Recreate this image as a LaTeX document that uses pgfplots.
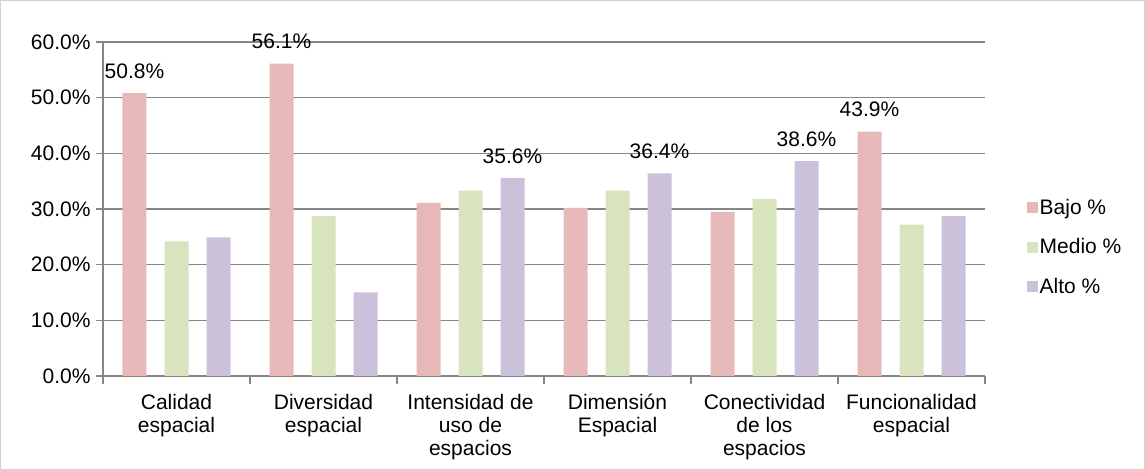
\documentclass[border=0pt]{standalone}
\usepackage{fontspec}
\setmainfont{Liberation Sans}
\usepackage{pgfplots}
\pgfplotsset{compat=1.18}
\definecolor{bajo}{HTML}{E6B9B8}
\definecolor{medio}{HTML}{D7E4BD}
\definecolor{alto}{HTML}{CCC1DA}
\definecolor{gridc}{HTML}{868686}
\begin{document}
\begin{tikzpicture}
\useasboundingbox (0,0) rectangle (1145pt,470pt);
\draw[line width=1pt, black!18] (0.5pt,0.5pt) rectangle (1144.5pt,469.5pt);
\begin{axis}[
  at={(103pt,94pt)}, anchor=south west,
  scale only axis, width=882pt, height=334pt,
  xmin=-0.5, xmax=5.5, ymin=0, ymax=60,
  axis x line=bottom, axis y line=left,
  axis line style={draw=gridc, line width=1.2pt, -},
  every tick label/.append style={font=\fontsize{21}{23}\selectfont},
  /pgf/number format/assume math mode=true,
  ytick={0,10,...,60},
  yticklabel={\pgfmathprintnumber[fixed,fixed zerofill,precision=1]{\tick}\%},
  ytick style={draw=gridc, line width=1.2pt},
  major tick length=7pt,
  tick align=outside,
  ymajorgrids, grid style={draw=gridc, line width=1.2pt},
  yticklabel style={xshift=-2pt},
  xtick={0,...,5},
  xtick style={draw=none},
  xticklabels={{Calidad\\espacial},{Diversidad\\espacial},{Intensidad de\\uso de\\espacios},{Dimensión\\Espacial},{Conectividad\\de los\\espacios},{Funcionalidad\\espacial}},
  xticklabel style={align=center, yshift=-8pt},
  extra x ticks={-0.5,0.5,1.5,2.5,3.5,4.5,5.5},
  extra x tick labels={},
  extra x tick style={xtick style={draw=gridc, line width=1.2pt}, major tick length=8pt, grid=none},
  legend style={at={(1.047,0.386)}, anchor=west, draw=none, fill=none,
    font=\fontsize{21}{23}\selectfont, row sep=19pt, inner sep=0pt,
    /tikz/every even column/.append style={column sep=0pt}},
  legend cell align=left,
  legend image code/.code={\fill[#1] (0pt,-5.5pt) rectangle (11pt,5.5pt);},
  nodes near coords, point meta=explicit symbolic,
  every node near coord/.append style={font=\fontsize{21}{23}\selectfont, anchor=south, yshift=11pt},
  clip=false,
]
\addplot[ybar, bar width=24pt, bar shift=-42pt, fill=bajo, draw=none,
  every node near coord/.append style={xshift=-42pt}] coordinates {
 (0,50.8)[50.8\%] (1,56.1)[56.1\%] (2,31.1)[{}] (3,30.2)[{}] (4,29.5)[{}] (5,43.9)[43.9\%]};
\addlegendentry{Bajo \%}
\addplot[ybar, bar width=24pt, bar shift=0pt, fill=medio, draw=none] coordinates {
 (0,24.2)[{}] (1,28.7)[{}] (2,33.3)[{}] (3,33.3)[{}] (4,31.8)[{}] (5,27.2)[{}]};
\addlegendentry{Medio \%}
\addplot[ybar, bar width=24pt, bar shift=42pt, fill=alto, draw=none,
  every node near coord/.append style={xshift=42pt}] coordinates {
 (0,24.9)[{}] (1,15.0)[{}] (2,35.6)[35.6\%] (3,36.4)[36.4\%] (4,38.6)[38.6\%] (5,28.7)[{}]};
\addlegendentry{Alto \%}
\end{axis}
\end{tikzpicture}
\end{document}
